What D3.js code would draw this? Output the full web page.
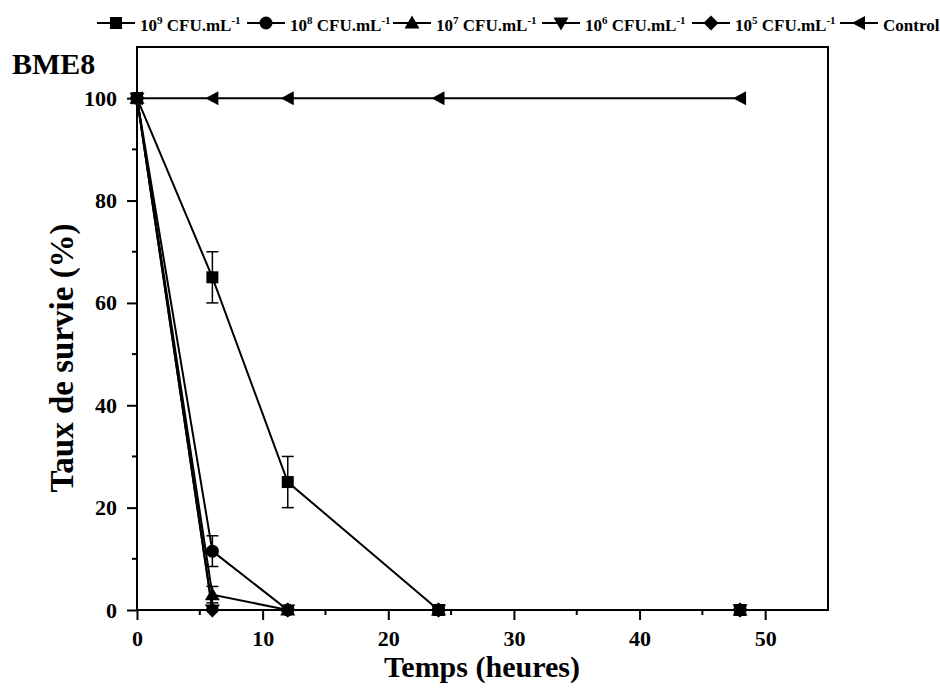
<!DOCTYPE html>
<html><head><meta charset="utf-8">
<script src="https://cdn.jsdelivr.net/npm/d3@7/dist/d3.min.js"></script>
<style>body{margin:0;background:#fff}svg{display:block}text{font-family:"Liberation Serif","Times New Roman",serif;font-weight:bold}</style>
</head><body><svg id="c" width="940" height="698"></svg>
<script>
const times = [0, 6, 12, 24, 48];
const seriesNames = ["10^9", "10^8", "10^7", "10^6", "10^5", "Control"];
const s1e9 = [100, 65, 25, 0, 0];
const s1e9err = [0, 5, 5, 0, 0];
const s1e8 = [100, 11.5, 0, 0, 0];
const s1e8err = [0, 3, 0, 0, 0];
const s1e7 = [100, 3, 0, 0, 0];
const s1e7err = [0, 1.6, 0, 0, 0];
const s1e6 = [100, 0, 0, 0, 0];
const s1e5 = [100, 0, 0, 0, 0];
const control = [100, 100, 100, 100, 100];
const xTicks = [0, 10, 20, 30, 40, 50];
const yTicks = [0, 20, 40, 60, 80, 100];

const svg = d3.select("#c");
const L = 137, R = 828, T = 47, B = 610;
const x = d3.scaleLinear().domain([0, 55]).range([L, R]);
const y = d3.scaleLinear().domain([0, 110]).range([B, T]);

const series = [
  {name: "9", vals: s1e9, err: s1e9err, sym: "square"},
  {name: "8", vals: s1e8, err: s1e8err, sym: "circle"},
  {name: "7", vals: s1e7, err: s1e7err, sym: "up"},
  {name: "6", vals: s1e6, err: null, sym: "down"},
  {name: "5", vals: s1e5, err: null, sym: "diamond"},
  {name: "Control", vals: control, err: null, sym: "left"}
];

function marker(g, sym, cx, cy) {
  if (sym === "square") g.append("rect").attr("x", cx - 6).attr("y", cy - 6).attr("width", 12).attr("height", 12);
  else if (sym === "circle") g.append("circle").attr("cx", cx).attr("cy", cy).attr("r", 6.5);
  else {
    let pts;
    if (sym === "up") pts = [[0, -7.5], [7.5, 5.5], [-7.5, 5.5]];
    else if (sym === "down") pts = [[0, 7.5], [7.5, -5.5], [-7.5, -5.5]];
    else if (sym === "diamond") pts = [[0, -7.5], [7.5, 0], [0, 7.5], [-7.5, 0]];
    else pts = [[-7, 0], [6, -7], [6, 7]];
    g.append("polygon").attr("points", pts.map(p => (cx + p[0]) + "," + (cy + p[1])).join(" "));
  }
}

// axes
const xAxis = d3.axisBottom(x).tickValues(xTicks).tickSize(10).tickPadding(10).tickFormat(d3.format("d"));
const gx = svg.append("g").attr("transform", `translate(0,${B})`).call(xAxis);
const yAxis = d3.axisLeft(y).tickValues(yTicks).tickSize(10).tickPadding(10).tickFormat(d3.format("d"));
const gy = svg.append("g").attr("transform", `translate(${L},0)`).call(yAxis);
[gx, gy].forEach(g => {
  g.select(".domain").remove();
  g.selectAll("line").attr("stroke", "#000").attr("stroke-width", 2);
  g.selectAll("text").attr("font-size", 22).attr("fill", "#000").style("font-family", '"Liberation Serif",serif').style("font-weight", "bold");
});
// minor ticks
svg.append("g").selectAll("line").data([5, 15, 25, 35, 45]).join("line")
  .attr("x1", d => x(d)).attr("x2", d => x(d)).attr("y1", B).attr("y2", B + 5).attr("stroke", "#000").attr("stroke-width", 2);
svg.append("g").selectAll("line").data([10, 30, 50, 70, 90]).join("line")
  .attr("y1", d => y(d)).attr("y2", d => y(d)).attr("x1", L).attr("x2", L - 5).attr("stroke", "#000").attr("stroke-width", 2);
// frame
svg.append("rect").attr("x", L).attr("y", T).attr("width", R - L).attr("height", B - T)
  .attr("fill", "none").attr("stroke", "#000").attr("stroke-width", 2);

// data
const line = d3.line().x((d, i) => x(times[i])).y(d => y(d));
series.forEach(s => {
  const g = svg.append("g");
  g.append("path").datum(s.vals).attr("d", line).attr("fill", "none").attr("stroke", "#000").attr("stroke-width", 2);
  if (s.err) {
    s.vals.forEach((v, i) => {
      if (s.err[i] > 0) {
        const cx = x(times[i]);
        g.append("line").attr("x1", cx).attr("x2", cx).attr("y1", y(v - s.err[i])).attr("y2", y(v + s.err[i])).attr("stroke", "#000").attr("stroke-width", 1.5);
        [v - s.err[i], v + s.err[i]].forEach(e => g.append("line").attr("x1", cx - 6).attr("x2", cx + 6).attr("y1", y(e)).attr("y2", y(e)).attr("stroke", "#000").attr("stroke-width", 1.5));
      }
    });
  }
  s.vals.forEach((v, i) => marker(g, s.sym, x(times[i]), y(v)));
});

// legend
const legX = [97, 247, 393, 542, 692, 840];
const ly = 23;
series.forEach((s, i) => {
  const g = svg.append("g");
  g.append("line").attr("x1", legX[i]).attr("x2", legX[i] + 38).attr("y1", ly).attr("y2", ly).attr("stroke", "#000").attr("stroke-width", 2);
  marker(g, s.sym, legX[i] + 19, ly);
  const t = g.append("text").attr("x", legX[i] + 43).attr("y", ly + 8).attr("font-size", 17).attr("fill", "#000");
  if (s.name === "Control") t.text("Control");
  else {
    t.append("tspan").text("10");
    t.append("tspan").attr("dy", -7).attr("font-size", 11).text(s.name);
    t.append("tspan").attr("dy", 7).text(" CFU.mL");
    t.append("tspan").attr("dy", -7).attr("font-size", 11).text("-1");
  }
});

// title & axis labels
svg.append("text").attr("x", 12).attr("y", 74).attr("font-size", 30).attr("fill", "#000").text("BME8");
svg.append("text").attr("x", 482).attr("y", 677).attr("text-anchor", "middle").attr("font-size", 30).attr("fill", "#000").text("Temps (heures)");
svg.append("text").attr("transform", `translate(73,358) rotate(-90)`).attr("text-anchor", "middle").attr("font-size", 33).attr("fill", "#000").text("Taux de survie (%)");
</script></body></html>
